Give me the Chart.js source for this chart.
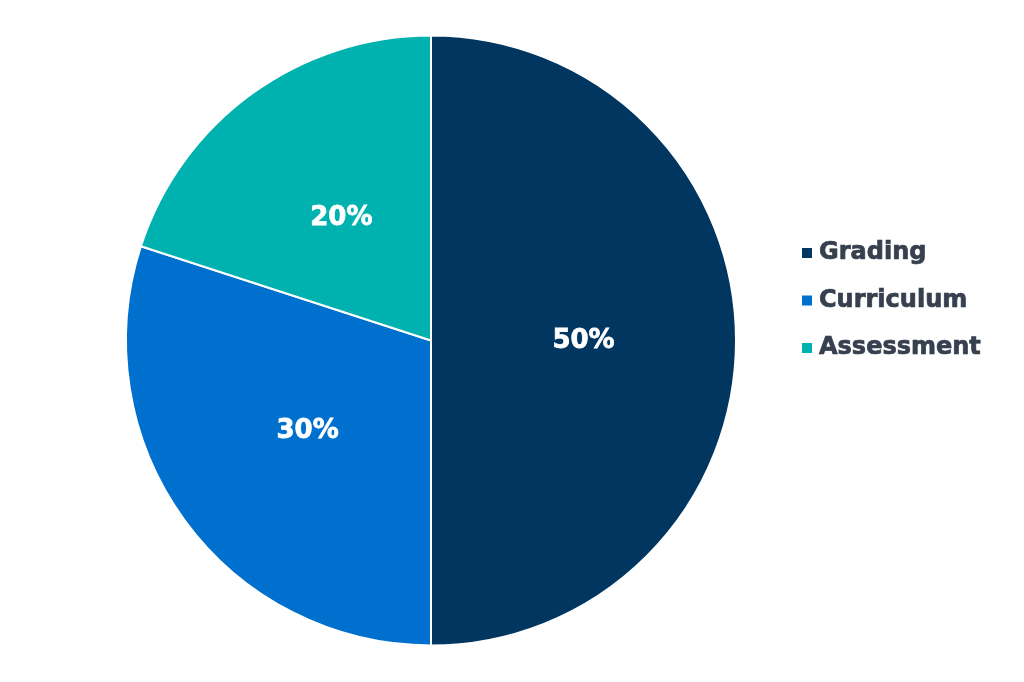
<!DOCTYPE html>
<html>
<head>
<meta charset="utf-8">
<script src="https://cdn.jsdelivr.net/npm/chart.js@4/dist/chart.umd.min.js"></script>
<style>
  html, body { margin: 0; padding: 0; background: #ffffff; }
  #wrap { width: 1024px; height: 682px; }
</style>
</head>
<body>
<div id="wrap"><canvas id="pie"></canvas></div>
<script>
const categories = ['Grading', 'Curriculum', 'Assessment'];
const shares = [50, 30, 20];
const sliceColors = ['#003660', '#0070ce', '#00b2af'];

// slice labels, drawn at the middle of each arc
const sliceLabels = {
  id: 'sliceLabels',
  afterDatasetsDraw: (chart) => {
    const ctx = chart.ctx;
    const meta = chart.getDatasetMeta(0);
    ctx.save();
    ctx.fillStyle = '#ffffff';
    ctx.strokeStyle = '#ffffff';
    ctx.lineWidth = 0.8;
    ctx.font = 'bold 26px "DejaVu Sans", Verdana, sans-serif';
    ctx.textAlign = 'center';
    ctx.textBaseline = 'middle';
    meta.data.forEach((arc, i) => {
      const p = arc.getCenterPoint();
      ctx.fillText(shares[i] + '%', p.x, p.y + 1);
      ctx.strokeText(shares[i] + '%', p.x, p.y + 1);
    });
    ctx.restore();
  }
};

// legend on the right, small squares + bold text
const sideLegend = {
  id: 'sideLegend',
  afterDraw: (chart) => {
    const ctx = chart.ctx;
    const x = 802;
    const y0 = 253;
    const step = 47.5;
    ctx.save();
    ctx.font = 'bold 24px "DejaVu Sans", Verdana, sans-serif';
    ctx.textBaseline = 'middle';
    ctx.textAlign = 'left';
    ctx.lineWidth = 0.7;
    chart.data.labels.forEach((lbl, i) => {
      const y = y0 + i * step;
      ctx.fillStyle = chart.data.datasets[0].backgroundColor[i];
      ctx.fillRect(x, y - 5, 10, 10);
      ctx.fillStyle = '#36404e';
      ctx.strokeStyle = '#36404e';
      ctx.fillText(lbl, x + 17, y);
      ctx.strokeText(lbl, x + 17, y);
    });
    ctx.restore();
  }
};

new Chart(document.getElementById('pie'), {
  type: 'pie',
  data: {
    labels: categories,
    datasets: [{
      data: shares,
      backgroundColor: sliceColors,
      borderColor: '#ffffff',
      borderWidth: 2
    }]
  },
  options: {
    responsive: true,
    maintainAspectRatio: false,
    animation: false,
    layout: {
      padding: { left: 125, right: 287, top: 34, bottom: 35 }
    },
    plugins: {
      legend: { display: false },
      tooltip: { enabled: false }
    }
  },
  plugins: [sliceLabels, sideLegend]
});
</script>
</body>
</html>
